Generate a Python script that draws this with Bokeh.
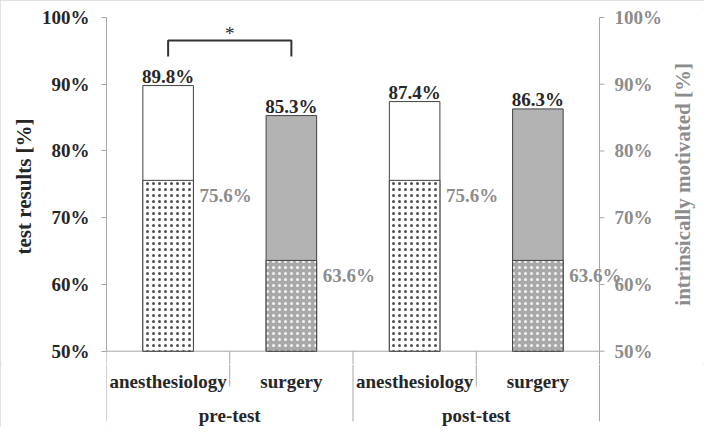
import math
from bokeh.plotting import figure
from bokeh.layouts import column
from bokeh.models import Range1d, LinearAxis, FixedTicker, ColumnDataSource
from bokeh.core.properties import value
from bokeh.embed import file_html
from bokeh.resources import INLINE

# ---- data ----
groups = ["pre-test", "post-test"]
subjects = ["anesthesiology", "surgery", "anesthesiology", "surgery"]
test_results = [89.8, 85.3, 87.4, 86.3]
motivated = [75.6, 63.6, 75.6, 63.6]
y_ticks = [50, 60, 70, 80, 90, 100]
significant_pair = (0, 1)
left_title = "test results [%]"
right_title = "intrinsically motivated [%]"

# ---- styling ----
FONT_NAME = "Liberation Serif"
FONT = value(FONT_NAME)
FS = "19px"
TITLE_FS = "21px"
AXIS_GRAY = "#a6a6a6"
LABEL_GRAY = "#8c8c8c"
DARK = "#262626"
BAR_LINE = "#404040"
W, H = 704, 427
MB_LEFT = 106
FRAME_RIGHT = 599                  # where the right-hand value axis sits
Y100 = 17                          # pixel row of the 100 % line
MB_TOP = 8
PX_PER_PCT = 6.674
y_top = 100
base = 50
EXTRA_PX = 13                      # frame continues a little below the 50 % line
n = len(subjects)
CAT_PX = (FRAME_RIGHT - MB_LEFT) / n
x_end = n + (W - FRAME_RIGHT) / CAT_PX
H1 = round(Y100 + (y_top - base) * PX_PER_PCT + EXTRA_PX)
H2 = H - H1
y_end = y_top + (Y100 - MB_TOP) / PX_PER_PCT
y_start = y_end - (H1 - MB_TOP) / PX_PER_PCT

def bare(fig):
    fig.outline_line_color = None
    fig.xgrid.visible = False
    fig.ygrid.visible = False
    return fig

p = bare(figure(width=W, height=H1, output_backend="svg", toolbar_location=None,
                x_range=Range1d(0, x_end), y_range=Range1d(y_start, y_end),
                x_axis_location=None, y_axis_location=None,
                min_border_left=MB_LEFT, min_border_right=0,
                min_border_top=MB_TOP, min_border_bottom=0))

left = LinearAxis(axis_label=left_title)
left.bounds = (base, y_top)
left.ticker = FixedTicker(ticks=y_ticks)
left.minor_tick_line_color = None
left.axis_line_color = AXIS_GRAY
left.major_tick_line_color = AXIS_GRAY
left.major_tick_out = 5
left.major_tick_in = 0
left.major_label_text_font = FONT_NAME
left.major_label_text_font_size = FS
left.major_label_text_font_style = "bold"
left.major_label_text_color = DARK
left.major_label_overrides = {t: f"{t}%" for t in y_ticks}
left.major_label_standoff = 12
left.axis_label_text_font = FONT_NAME
left.axis_label_text_font_size = TITLE_FS
left.axis_label_text_font_style = "bold"
left.axis_label_text_color = DARK
left.axis_label_text_align = "center"
left.axis_label_standoff = 3
p.add_layout(left, "left")

# right-hand value axis (secondary scale, same 50-100 % span), drawn on the x = n edge
p.segment(x0=[n], y0=[base], x1=[n], y1=[y_top], line_color=AXIS_GRAY, line_width=1)
p.segment(x0=[n] * len(y_ticks), y0=y_ticks, x1=[n + 5 / CAT_PX] * len(y_ticks),
          y1=y_ticks, line_color=AXIS_GRAY, line_width=1)
p.text(x=[n] * len(y_ticks), y=y_ticks, text=[f"{t}%" for t in y_ticks], text_font=FONT,
       text_font_size=FS, text_font_style="bold", text_color=LABEL_GRAY,
       text_align="left", text_baseline="middle", x_offset=15)
p.text(x=[n + 83 / CAT_PX], y=[(base + y_top) / 2], text=[right_title],
       angle=math.pi / 2, text_font=FONT, text_font_size=TITLE_FS,
       text_font_style="bold", text_color=LABEL_GRAY, text_align="center",
       text_baseline="middle")

xs = [i + 0.5 for i in range(n)]
fills = ["white" if s == "anesthesiology" else "#b3b3b3" for s in subjects]
inner_fills = ["white" if s == "anesthesiology" else "#a9a9a9" for s in subjects]
hatch_cols = ["#505050" if s == "anesthesiology" else "#f4f4f4" for s in subjects]

BW = 0.41
src = ColumnDataSource(dict(x=xs, top=test_results, mot=motivated, fill=fills,
                            ifill=inner_fills, hcol=hatch_cols,
                            lab=[f"{v:.1f}%" for v in test_results],
                            mlab=[f"{v:.1f}%" for v in motivated],
                            xr=[x + BW / 2 for x in xs]))

# baseline of the category axis and upper part of separators
sep_x = list(range(n + 1))
p.segment(x0=[0], y0=[base], x1=[n], y1=[base], line_color=AXIS_GRAY, line_width=1)
p.segment(x0=sep_x, y0=[base] * len(sep_x), x1=sep_x, y1=[y_start] * len(sep_x),
          line_color=AXIS_GRAY, line_width=1)

p.vbar(x="x", top="top", bottom=base, width=BW, source=src, fill_color="fill",
       line_color=BAR_LINE, line_width=1)
p.vbar(x="x", top="mot", bottom=base, width=BW, source=src, fill_color="ifill",
       line_color=BAR_LINE, line_width=1, hatch_pattern="dot", hatch_color="hcol",
       hatch_scale=6, hatch_weight=0.3)

p.text(x="x", y="top", text="lab", source=src, text_font=FONT, text_font_size=FS,
       text_font_style="bold", text_color=DARK, text_align="center",
       text_baseline="alphabetic", y_offset=-9)
p.text(x="xr", y="mot", text="mlab", source=src, text_font=FONT, text_font_size=FS,
       text_font_style="bold", text_color=LABEL_GRAY, text_align="left",
       text_baseline="middle", x_offset=6, y_offset=15)

# significance bracket
a, b = significant_pair
br_top = max(test_results[a], test_results[b]) + 6.76
br_leg = br_top - 2.4
p.line(x=[xs[a], xs[a], xs[b], xs[b]], y=[br_leg, br_top, br_top, br_leg],
       line_color="#333333", line_width=2)
p.text(x=[(xs[a] + xs[b]) / 2], y=[br_top], text=["*"], text_font=FONT,
       text_font_size=FS, text_color=DARK, text_align="center",
       text_baseline="alphabetic", y_offset=-7)

# ---- category axis strip (pixel units below the frame) ----
q = bare(figure(width=W, height=H2, output_backend="svg", toolbar_location=None,
                x_range=p.x_range, y_range=Range1d(-H2, 0),
                x_axis_location=None, y_axis_location=None,
                min_border_left=MB_LEFT, min_border_right=0,
                min_border_top=0, min_border_bottom=0))

long_sep = 70 - EXTRA_PX
short_sep = 35 - EXTRA_PX
q.segment(x0=sep_x, y0=[0] * len(sep_x), x1=sep_x,
          y1=[-(long_sep if i % 2 == 0 else short_sep) for i in sep_x],
          line_color=AXIS_GRAY, line_width=1)
q.text(x=xs, y=[-(30 - EXTRA_PX)] * n, text=subjects, text_font=FONT, text_font_size=FS,
       text_font_style="bold", text_color=DARK, text_align="center",
       text_baseline="alphabetic")
gx = [2 * i + 1 for i in range(len(groups))]
q.text(x=gx, y=[-(64 - EXTRA_PX)] * len(groups), text=groups, text_font=FONT,
       text_font_size=FS, text_font_style="bold", text_color=DARK, text_align="center",
       text_baseline="alphabetic")

layout = column(p, q, spacing=0,
                styles={"outline": "2px solid #d9d9d9", "outline-offset": "-2px"})
open("out.html", "w").write(file_html(layout, INLINE))
